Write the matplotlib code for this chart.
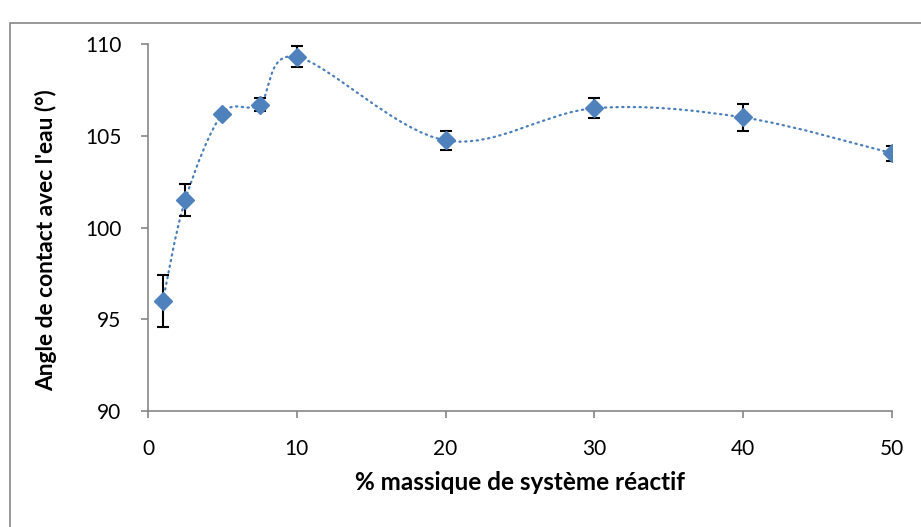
import numpy as np
import matplotlib.pyplot as plt
from matplotlib.path import Path
from matplotlib.patches import PathPatch, Rectangle

plt.rcParams['font.family'] = ['Lato', 'DejaVu Sans']

# data
pct = [1, 2.5, 5, 7.5, 10, 20, 30, 40, 50]
angle = [96.0, 101.5, 106.2, 106.7, 109.3, 104.75, 106.5, 106.0, 104.05]
err = [1.43, 0.85, 0.1, 0.35, 0.57, 0.5, 0.55, 0.75, 0.4]


def smooth_path(x, y):
    # Excel-style smoothed line: cubic bezier, tangent = (P[i+1]-P[i-1])/6
    p = np.column_stack([x, y]).astype(float)
    n = len(p)
    verts = [p[0]]
    codes = [Path.MOVETO]
    for i in range(n - 1):
        pm = p[i - 1] if i > 0 else p[i]
        pp = p[i + 2] if i + 2 < n else p[i + 1]
        c1 = p[i] + (p[i + 1] - pm) / 6
        c2 = p[i + 1] - (pp - p[i]) / 6
        verts += [c1, c2, p[i + 1]]
        codes += [Path.CURVE4] * 3
    return Path(verts, codes)


fig = plt.figure(figsize=(9.21, 5.27), dpi=100)
ax = fig.add_axes([0.1607, 0.2201, 0.8078, 0.6964])

# outer chart border (only top and left visible in the crop)
fig.patches.append(Rectangle((10 / 921, -0.1), 1.2, 1 - 23 / 527 + 0.1,
                             transform=fig.transFigure, fill=False,
                             edgecolor='#868686', linewidth=1.2))

line = PathPatch(smooth_path(pct, angle), fill=False, edgecolor='#4A7EBB',
                 linewidth=1.6, linestyle=(0, (0.6, 2.0)), capstyle='round',
                 zorder=2)
ax.add_patch(line)

ax.errorbar(pct, angle, yerr=err, fmt='none', ecolor='black', elinewidth=1.5,
            capsize=4.5, capthick=1.5, zorder=3)
ax.plot(pct, angle, linestyle='none', marker='D', markersize=9,
        color='#4F81BD', markeredgecolor='#4F81BD', zorder=4)

ax.set_xlim(0, 50)
ax.set_ylim(90, 110)
ax.set_xticks([0, 10, 20, 30, 40, 50])
ax.set_yticks([90, 95, 100, 105, 110])

for s in ['top', 'right']:
    ax.spines[s].set_visible(False)
for s in ['left', 'bottom']:
    ax.spines[s].set_color('#868686')
    ax.spines[s].set_linewidth(1.2)
ax.tick_params(direction='out', length=5, width=1.2, color='#868686',
               labelsize=15)
ax.tick_params(axis='x', pad=15.5)
ax.tick_params(axis='y', pad=14)

ax.set_xlabel('% massique de système réactif', fontsize=17.5,
              fontweight='bold', va='top')
ax.xaxis.set_label_coords(0.5, -0.163)
ax.set_ylabel("Angle de contact avec l'eau (°)", fontsize=16.4,
              fontweight='bold')
ax.yaxis.set_label_coords(-0.122, 0.466)

fig.savefig('out.png', dpi=100)
